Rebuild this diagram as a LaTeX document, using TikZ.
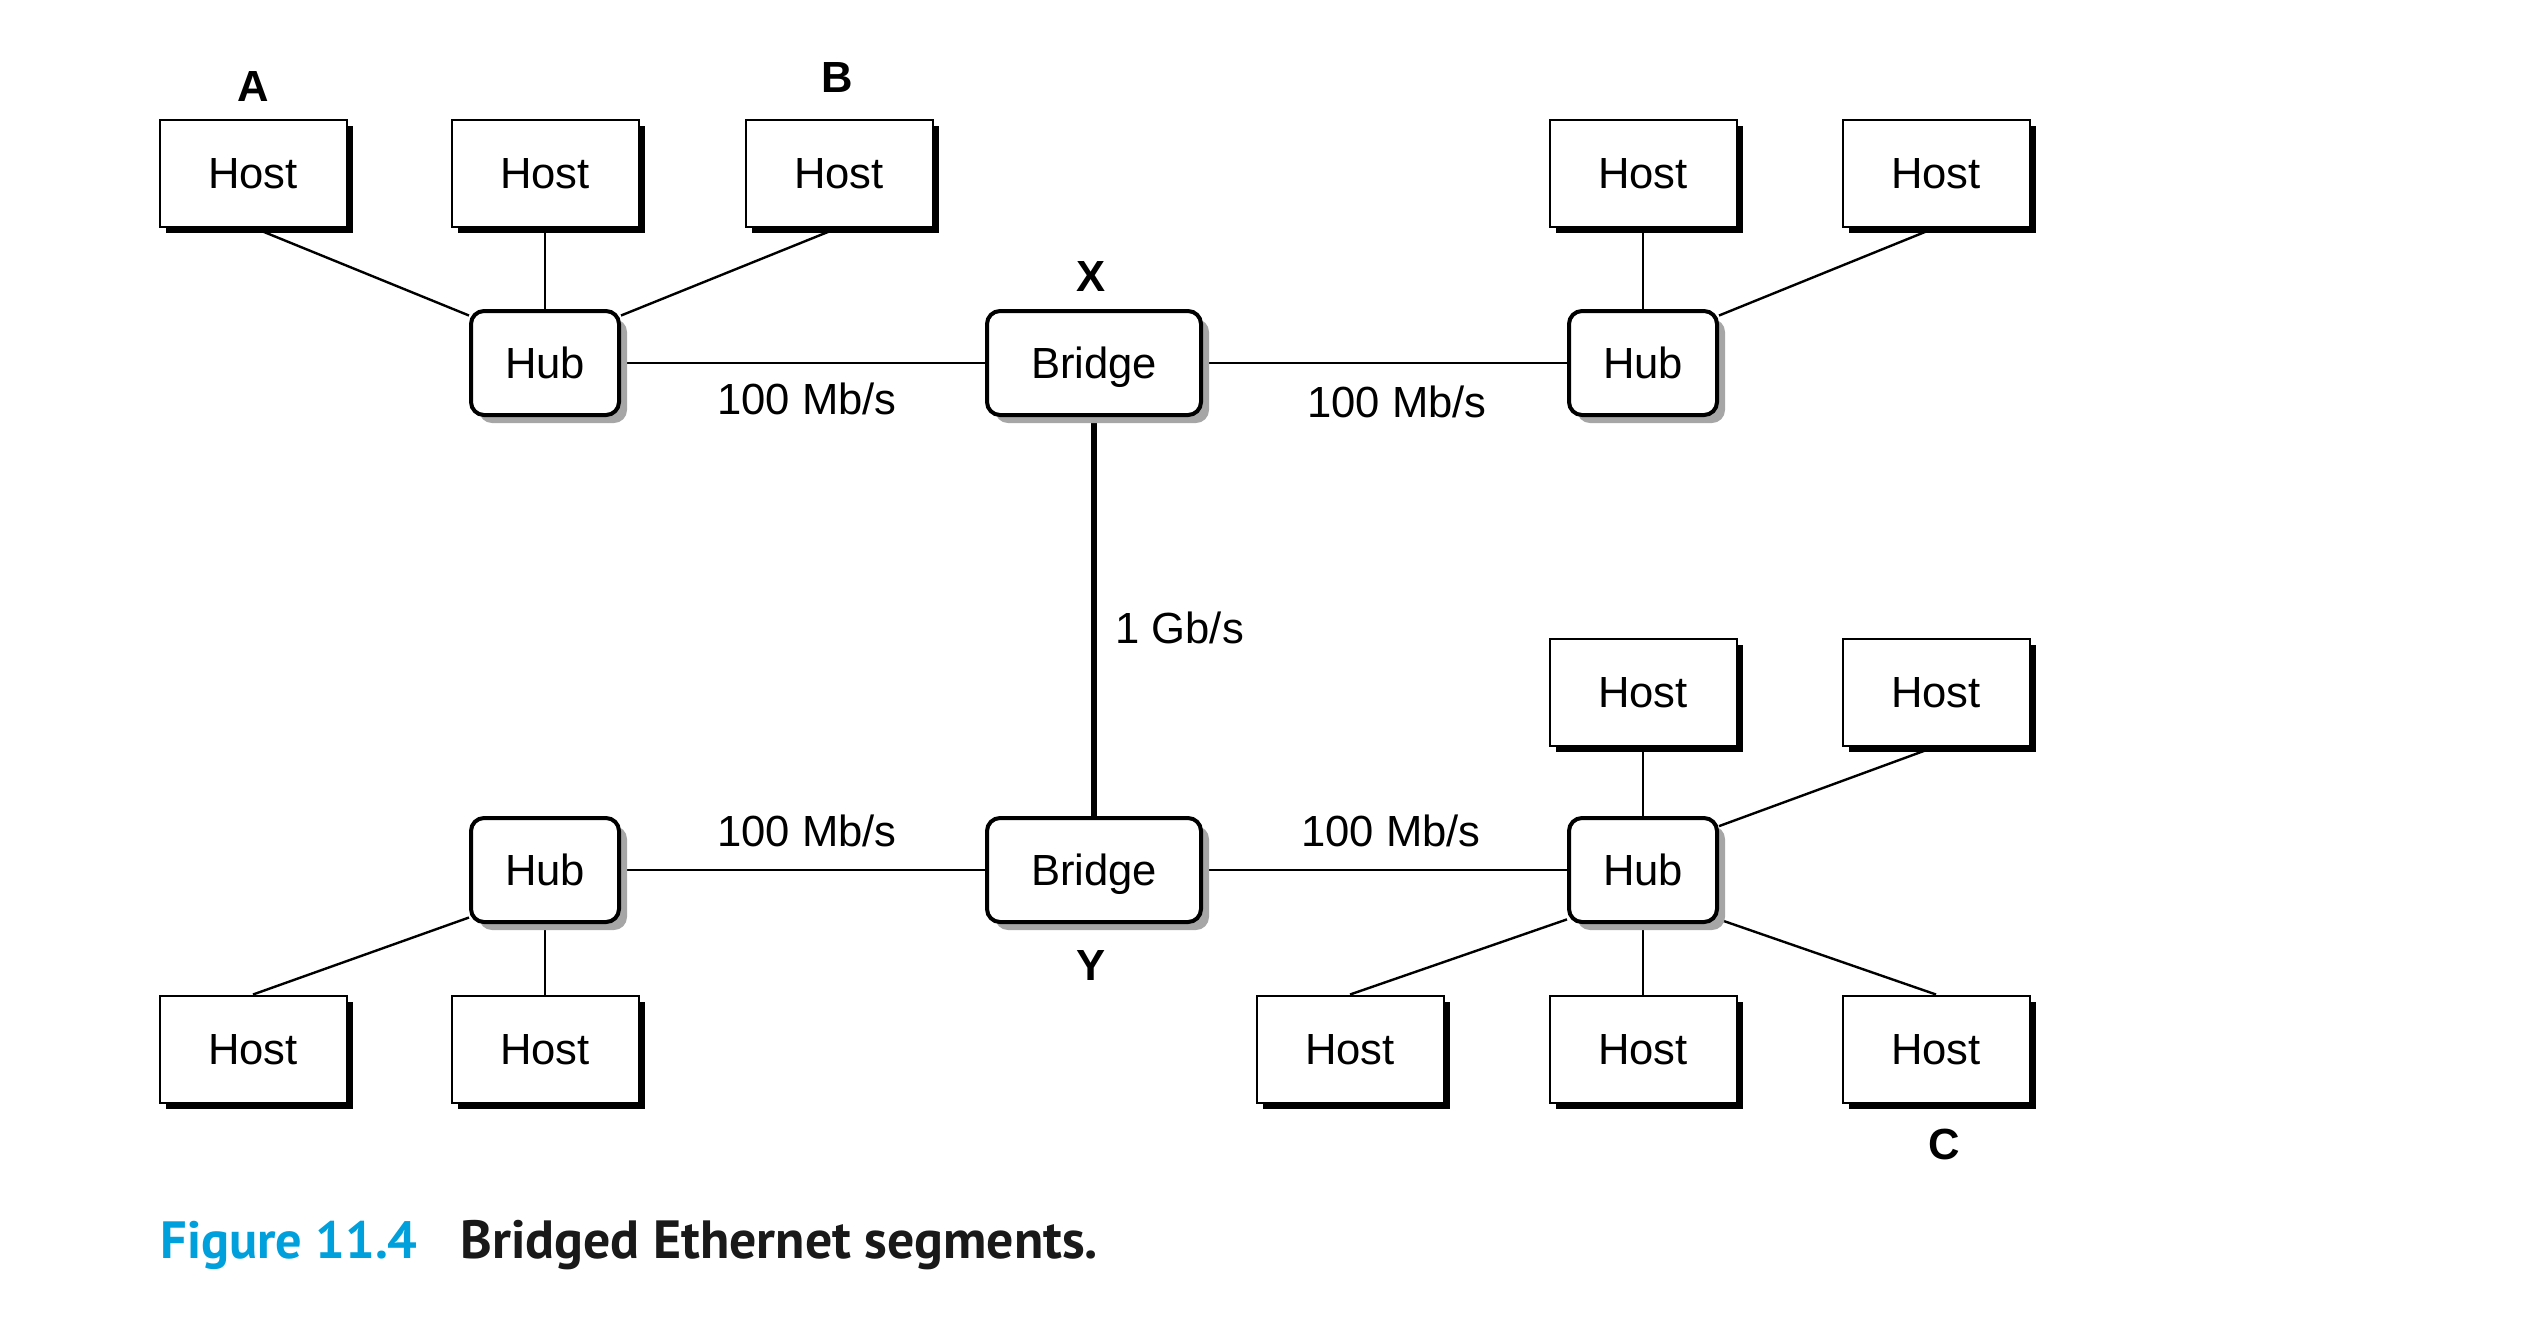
\documentclass[tikz,border=0pt]{standalone}
\usepackage{fontspec}
\setmainfont{Liberation Sans}
\newfontfamily\capfont{PT Sans}
\usetikzlibrary{shadows,backgrounds,calc}
\definecolor{figblue}{RGB}{0,160,220}
\begin{document}
\begin{tikzpicture}[x=0.5pt,y=-0.5pt,
  every node/.style={font=\fontsize{21.8}{26}\selectfont, inner sep=0pt, text height=15.6pt, text depth=0pt},
  hostbox/.style={draw, line width=1pt, fill=white, minimum width=93.5pt, minimum height=53.5pt,
    drop shadow={shadow xshift=3pt, shadow yshift=-3pt, fill=black, opacity=1}},
  hubbox/.style={draw, line width=2pt, rounded corners=6.5pt, fill=white, minimum width=74pt, minimum height=52pt,
    drop shadow={shadow xshift=4pt, shadow yshift=-4pt, fill=black!35, opacity=1}},
  bridgebox/.style={hubbox, minimum width=107pt},
  lbl/.style={font=\fontsize{21.8}{26}\selectfont\bfseries},
  link/.style={line width=1.2pt},
  trunk/.style={line width=2.8pt}
]
\useasboundingbox (0,0) rectangle (2530,1330);
% top segment
\node[hostbox] (hA) at (253,173) {Host};
\node[hostbox] (h2) at (545,173) {Host};
\node[hostbox] (hB) at (839,173) {Host};
\node[hostbox] (h4) at (1643,173) {Host};
\node[hostbox] (h5) at (1936,173) {Host};
\node[hubbox] (H1) at (545,363) {Hub};
\node[bridgebox] (BX) at (1094,363) {Bridge};
\node[hubbox] (H2) at (1643,363) {Hub};
% bottom segment
\node[hostbox] (h6) at (1643,692) {Host};
\node[hostbox] (h7) at (1936,692) {Host};
\node[hubbox] (H3) at (545,870) {Hub};
\node[bridgebox] (BY) at (1094,870) {Bridge};
\node[hubbox] (H4) at (1643,870) {Hub};
\node[hostbox] (h8) at (253,1049) {Host};
\node[hostbox] (h9) at (545,1049) {Host};
\node[hostbox] (h10) at (1350,1049) {Host};
\node[hostbox] (h11) at (1643,1049) {Host};
\node[hostbox] (h12) at (1936,1049) {Host};
% labels
\node[lbl] (la) at (253,86) {A};
\node[lbl] (lb) at (837,77) {B};
\node[lbl] (lx) at (1091,276) {X};
\node[lbl] (ly) at (1091,965) {Y};
\node[lbl] (lc) at (1944,1144) {C};
\node (s1) at (807,399) {100 Mb/s};
\node (s2) at (1397,402) {100 Mb/s};
\node (s3) at (807,831) {100 Mb/s};
\node (s4) at (1391,831) {100 Mb/s};
\node[anchor=west] (s5) at (1115,628) {1 Gb/s};
% caption
\node[anchor=base west, font=\capfont\fontsize{26.2}{30}\selectfont\bfseries, text=figblue] (cap1) at (160,1258) {Figure 11.4};
\node[anchor=base west, font=\capfont\fontsize{26.9}{30}\selectfont\bfseries, text=black!90] (cap2) at (460,1258) {Bridged Ethernet segments.};
% connectors
\begin{scope}[on background layer]
\draw[link] (hA.south) -- (H1.148);
\draw[link] (h2.south) -- (H1.north);
\draw[link] (hB.south) -- (H1.32);
\draw[link] (h4.south) -- (H2.north);
\draw[link] (h5.south) -- (H2.32);
\draw[link] (H1.east) -- (BX.west);
\draw[link] (BX.east) -- (H2.west);
\draw[trunk] (BX.south) -- (BY.north);
\draw[link] (H3.east) -- (BY.west);
\draw[link] (BY.east) -- (H4.west);
\draw[link] (h8.north) -- (H3.212);
\draw[link] (h9.north) -- (H3.south);
\draw[link] (h6.south) -- (H4.north);
\draw[link] (h7.south) -- (H4.30);
\draw[link] (h10.north) -- (H4.213);
\draw[link] (h11.north) -- (H4.south);
\draw[link] (h12.north) -- (H4.-33);
\end{scope}
\end{tikzpicture}
\end{document}
